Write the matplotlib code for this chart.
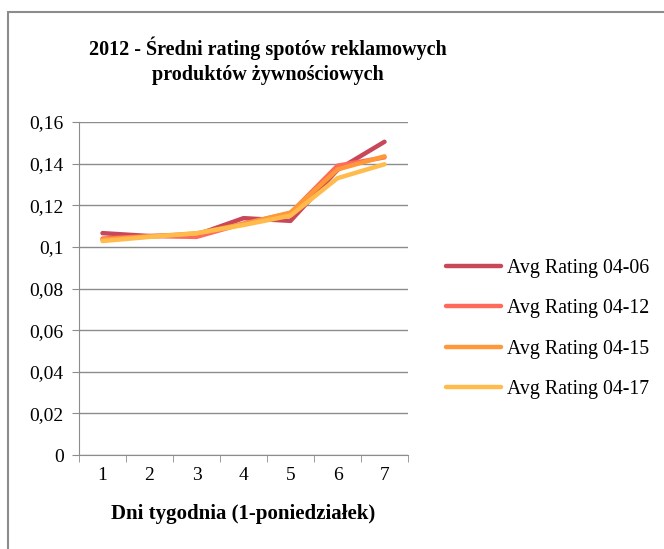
import matplotlib.pyplot as plt
from matplotlib.patches import Rectangle

plt.rcParams['font.family'] = ['Liberation Serif', 'DejaVu Serif']

days = [1, 2, 3, 4, 5, 6, 7]
rating_0406 = [0.1066, 0.1052, 0.1058, 0.1138, 0.1125, 0.1370, 0.1505]
rating_0412 = [0.1040, 0.1052, 0.1048, 0.1112, 0.1162, 0.1390, 0.1430]
rating_0415 = [0.1035, 0.1050, 0.1065, 0.1110, 0.1165, 0.1372, 0.1435]
rating_0417 = [0.1028, 0.1048, 0.1065, 0.1105, 0.1150, 0.1330, 0.1397]
labels = ['Avg Rating 04-06', 'Avg Rating 04-12', 'Avg Rating 04-15', 'Avg Rating 04-17']
colors = ['#C84859', '#FF6A5A', '#FF9838', '#FFBC4C']
yticks = [0, 0.02, 0.04, 0.06, 0.08, 0.1, 0.12, 0.14, 0.16]
ytick_labels = ['0', '0,02', '0,04', '0,06', '0,08', '0,1', '0,12', '0,14', '0,16']

fig = plt.figure(figsize=(6.64, 5.49), dpi=100)
# chart frame (only top and left edges fall inside the image)
fig.patches.append(Rectangle((7.5 / 664, -0.1), 1.2, 1.1 - 11.5 / 549,
                             transform=fig.transFigure, fill=False,
                             edgecolor='#8c8c8c', linewidth=1.5))

ax = fig.add_axes([79 / 664, 1 - 455 / 549, (408 - 79) / 664, (455 - 122) / 549])

series = [rating_0406, rating_0412, rating_0415, rating_0417]
for vals, lab, col in zip(series, labels, colors):
    ax.plot(days, vals, color=col, linewidth=3.2, label=lab, solid_capstyle='round')

ax.set_xlim(0.5, 7.5)
ax.set_ylim(0, 0.16)
ax.set_yticks(yticks)
ax.set_yticklabels(ytick_labels, fontsize=14)
ax.set_xticks(days)
ax.set_xticklabels([str(d) for d in days], fontsize=14)
ax.set_xticks([d + 0.5 for d in range(0, 8)], minor=True)
ax.tick_params(axis='x', which='major', length=0, pad=9)
ax.tick_params(axis='x', which='minor', length=5, color='#8c8c8c', direction='out')
ax.tick_params(axis='y', length=5, color='#8c8c8c', pad=6)
ax.yaxis.grid(True, color='#8c8c8c', linewidth=1)
ax.set_axisbelow(True)
for side in ['top', 'right']:
    ax.spines[side].set_visible(False)
for side in ['left', 'bottom']:
    ax.spines[side].set_color('#8c8c8c')

ax.set_xlabel('Dni tygodnia (1-poniedziałek)', fontsize=15, fontweight='bold', labelpad=14)

fig.text(268 / 664, 1 - 61 / 549, '2012 - Średni rating spotów reklamowych\nproduktów żywnościowych',
         ha='center', va='center', fontsize=14.5, fontweight='bold', linespacing=1.35)

ax.legend(loc='upper left', bbox_to_anchor=(428 / 664, 1 - 241 / 549), bbox_transform=fig.transFigure,
          frameon=False, fontsize=14.3, handlelength=2.8, handletextpad=0.3, labelspacing=1.08)

fig.savefig('out.png', dpi=100)
